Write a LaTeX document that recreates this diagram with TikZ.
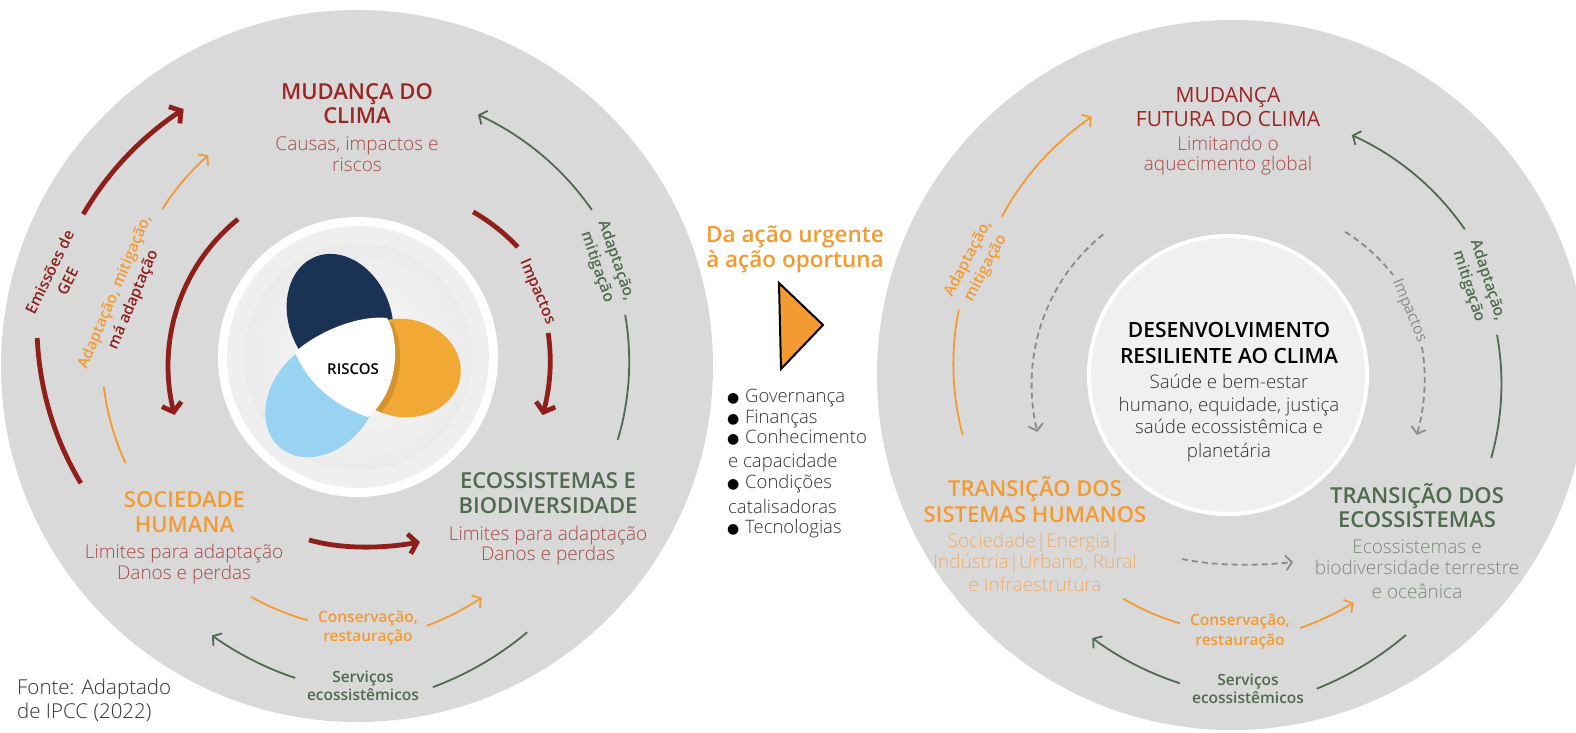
\documentclass[tikz,border=0pt]{standalone}
\usepackage{fontspec}
\setmainfont{Open Sans}
\newfontfamily\osl{Open Sans Light}
\newfontfamily\ossb{Open Sans Semibold}
\newfontfamily\djv{DejaVu Sans}
\usetikzlibrary{arrows.meta}
\definecolor{bgray}{HTML}{D9D9D9}
\definecolor{arrred}{HTML}{8E1F1B}
\definecolor{ttlred}{HTML}{9B2522}
\definecolor{subred}{HTML}{A64B47}
\definecolor{orng}{HTML}{F39A33}
\definecolor{lorng}{HTML}{F3AC66}
\definecolor{grn}{HTML}{4F6A4D}
\definecolor{lgrn}{HTML}{7C8B7A}
\definecolor{dgray}{HTML}{8A8A8A}
\definecolor{txt}{HTML}{333333}
\definecolor{navy}{HTML}{1A3354}
\definecolor{petor}{HTML}{F2A835}
\definecolor{petbl}{HTML}{98D4F2}
\definecolor{incirc}{HTML}{F0F0F0}
\definecolor{embband}{HTML}{EFEFF0}
\newcommand{\sarc}[4]{plot[domain=0:1,samples=40,smooth] ({(#1)+((#2)-(#1))*\x}:{(#3)+((#4)-(#3))*\x})}
\newcommand{\lenspath}{(295,352) .. controls (320,330) and (360,315) .. (387,318)
  .. controls (400,340) and (400,390) .. (368,417)
  .. controls (345,410) and (310,390) .. (295,352) -- cycle}
\begin{document}
\begin{tikzpicture}[x=1pt,y=-1pt,
  ttl/.style={anchor=base,inner sep=0pt,font=\ossb\fontsize{22}{24}\selectfont},
  sub/.style={anchor=base,inner sep=0pt,font=\osl\fontsize{19}{21}\selectfont},
  sml/.style={anchor=base,inner sep=0pt,font=\ossb\fontsize{15.5}{18}\selectfont},
  rlbl/.style={anchor=center,inner sep=0pt,align=center,font=\ossb\fontsize{15.5}{20}\selectfont},
  lst/.style={anchor=base west,inner sep=0pt,text=txt,font=\osl\fontsize{18.5}{20}\selectfont},
  bul/.style={anchor=base west,inner sep=0pt,text=black,font=\djv\fontsize{14}{16}\selectfont},
  redthick/.style={draw=arrred,line width=4.8pt},
  redtip/.style={-{Straight Barb[length=8pt,width=20pt]}},
  thinarr/.style={line width=1.8pt},
  thintip/.style={-{Straight Barb[length=6pt,width=15pt]}},
  dasharr/.style={draw=dgray,line width=1.8pt,dash pattern=on 6pt off 4pt}]
\useasboundingbox (0,0) rectangle (1576,733);
\fill[white] (0,0) rectangle (1576,733);
% big discs
\fill[bgray] (357,366) circle[radius=356];
\fill[bgray] (1232,375) circle[radius=355];
% emblem left
\fill[white] (358,357) circle[radius=140];
\fill[embband] (358,357) circle[radius=131];
\shade[inner color=white!96!gray, outer color=white!84!gray] (358,357) circle[radius=114];
\fill[navy, rotate around={112:(340,318)}] (340,318) ellipse[x radius=66, y radius=51];
\fill[petbl, rotate around={-130:(322,398)}] (322,398) ellipse[x radius=65, y radius=50];
\fill[petor, rotate around={-10:(403,368)}] (403,368) ellipse[x radius=58, y radius=49];
\begin{scope}
  \clip[rotate around={-10:(403,368)}] (403,368) ellipse[x radius=58, y radius=49];
  \begin{scope}[shift={(5,4)}]
    \fill[black,opacity=0.12] \lenspath;
  \end{scope}
\end{scope}
\fill[white] \lenspath;
\node[anchor=base,inner sep=0pt,font=\ossb\fontsize{15}{17}\selectfont] (riscos) at (353,374) {RISCOS};
% right inner disc
\fill[white] (1228,375) circle[radius=141];
\fill[incirc] (1228,375) circle[radius=137];

% ---------- left texts
\node[ttl,text=ttlred] (mc1) at (357,100) {MUDANÇA DO};
\node[ttl,text=ttlred] (mc2) at (357,124) {CLIMA};
\node[sub,text=subred] (mcs1) at (357,150) {Causas, impactos e};
\node[sub,text=subred] (mcs2) at (357,171) {riscos};
\node[ttl,text=orng] (sh1) at (184.5,507) {SOCIEDADE};
\node[ttl,text=orng] (sh2) at (184.5,532) {HUMANA};
\node[sub,text=subred] (shs1) at (184,558) {Limites para adaptação};
\node[sub,text=subred] (shs2) at (184,579) {Danos e perdas};
\node[ttl,text=grn] (eb1) at (548,488) {ECOSSISTEMAS E};
\node[ttl,text=grn] (eb2) at (548,513) {BIODIVERSIDADE};
\node[sub,text=subred] (ebs1) at (548,540) {Limites para adaptação};
\node[sub,text=subred] (ebs2) at (548,560) {Danos e perdas};
\node[sml,text=orng] (cr1) at (368,622) {Conservação,};
\node[sml,text=orng] (cr2) at (368,641) {restauração};
\node[sml,text=grn] (se1) at (363,682) {Serviços};
\node[sml,text=grn] (se2) at (363,700) {ecossistêmicos};
\node[anchor=base west,inner sep=0pt,text=txt,font=\osl\fontsize{20.5}{22}\selectfont] (f1) at (17,694) {Fonte: Adaptado};
\node[anchor=base west,inner sep=0pt,text=txt,font=\osl\fontsize{20.5}{22}\selectfont] (f2) at (17,718) {de IPCC (2022)};
% rotated labels left
\node[rlbl,text=arrred,rotate=64] (em) at (58.5,276.5) {Emissões de\\GEE};
\node[rlbl,text=orng,rotate=67] (am) at (124.5,296) {Adaptação, mitigação,\\\textcolor{arrred}{má adaptação}};
\node[rlbl,text=arrred,rotate=-67] (imp) at (537,292) {Impactos};
\node[rlbl,text=grn,rotate=-71] (ad) at (606.5,264) {Adaptação,\\mitigação};

% ---------- left arrows
\draw[redthick,redtip,shift={(357,366)}] \sarc{209}{236}{313}{310};
\draw[redthick,shift={(357,366)}] \sarc{185}{157}{321}{300};
\draw[redthick,redtip,shift={(357,366)}] \sarc{231}{165}{189}{189};
\draw[redthick,shift={(357,366)}] \sarc{-53}{-36.5}{193}{200};
\draw[redthick,redtip,shift={(357,366)}] \sarc{-9.8}{14.8}{194}{192};
\draw[thinarr,draw=orng,thintip,shift={(357,366)}] \sarc{218.8}{234.8}{250}{258};
\draw[thinarr,draw=orng,shift={(357,366)}] \sarc{175.3}{157.2}{254}{251};
\draw[thinarr,draw=grn,thintip,shift={(357,366)}] \sarc{-33.6}{-64.3}{282}{279};
\draw[thinarr,draw=grn,shift={(357,366)}] \sarc{-10.8}{15.8}{273}{271};
\draw[thinarr,draw=orng,shift={(357,366)}] \sarc{114.6}{100.9}{254}{259};
\draw[thinarr,draw=orng,thintip,shift={(357,366)}] \sarc{74.9}{61.7}{269}{263};
\draw[thinarr,draw=grn,shift={(357,366)}] \sarc{57.4}{76.7}{316}{330};
\draw[thinarr,draw=grn,thintip,shift={(357,366)}] \sarc{101.2}{118.3}{318}{306};
\coordinate (h1) at (309,540);
\coordinate (h2) at (420,542);
\draw[redthick,redtip] (h1) .. controls (345,550) and (385,548) .. (h2);

% ---------- middle
\node[ttl,text=orng,font=\ossb\fontsize{22.5}{24}\selectfont] (da1) at (795,242) {Da ação urgente};
\node[ttl,text=orng,font=\ossb\fontsize{22.5}{24}\selectfont] (da2) at (795,267) {à ação oportuna};
\coordinate (t1) at (779,283);
\coordinate (t2) at (823,325);
\coordinate (t3) at (781,369);
\filldraw[fill=orng,draw=black,line width=2pt,line join=miter] (t1) -- (t2) -- (t3) -- cycle;
\node[bul] (b1) at (727,402) {●};
\node[lst] (l1) at (745,402) {Governança};
\node[bul] (b2) at (727,423) {●};
\node[lst] (l2) at (745,423) {Finanças};
\node[bul] (b3) at (727,443) {●};
\node[lst] (l3) at (745,443) {Conhecimento};
\node[lst] (l4) at (728,467) {e capacidade};
\node[bul] (b5) at (727,488) {●};
\node[lst] (l5) at (745,488) {Condições};
\node[lst] (l6) at (728,513) {catalisadoras};
\node[bul] (b7) at (727,533) {●};
\node[lst] (l7) at (745,533) {Tecnologias};

% ---------- right texts
\node[ttl,text=ttlred,font=\fontsize{21}{23}\selectfont] (mf1) at (1228,103) {MUDANÇA};
\node[ttl,text=ttlred,font=\fontsize{21}{23}\selectfont] (mf2) at (1228,127) {FUTURA DO CLIMA};
\node[sub,text=subred] (mfs1) at (1228,150) {Limitando o};
\node[sub,text=subred] (mfs2) at (1228,170) {aquecimento global};
\node[ttl,text=black,font=\ossb\fontsize{21}{23}\selectfont] (dv1) at (1229,337) {DESENVOLVIMENTO};
\node[ttl,text=black,font=\ossb\fontsize{21}{23}\selectfont] (dv2) at (1229,363) {RESILIENTE AO CLIMA};
\node[sub,text=txt,font=\osl\fontsize{18.7}{21}\selectfont] (dvs1) at (1229,388) {Saúde e bem-estar};
\node[sub,text=txt,font=\osl\fontsize{18.7}{21}\selectfont] (dvs2) at (1229,411) {humano, equidade, justiça};
\node[sub,text=txt,font=\osl\fontsize{18.7}{21}\selectfont] (dvs3) at (1229,433) {saúde ecossistêmica e};
\node[sub,text=txt,font=\osl\fontsize{18.7}{21}\selectfont] (dvs4) at (1229,457) {planetária};
\node[ttl,text=orng] (th1) at (1035,496) {TRANSIÇÃO DOS};
\node[ttl,text=orng] (th2) at (1035,522) {SISTEMAS HUMANOS};
\node[sub,text=lorng] (ths1) at (1034,547) {Sociedade|Energia|};
\node[sub,text=lorng] (ths2) at (1035,568) {Indústria|Urbano, Rural};
\node[sub,text=lorng] (ths3) at (1035,591) {e Infraestrutura};
\node[ttl,text=grn] (te1) at (1417,503) {TRANSIÇÃO DOS};
\node[ttl,text=grn] (te2) at (1417,527) {ECOSSISTEMAS};
\node[sub,text=lgrn] (tes1) at (1417,553) {Ecossistemas e};
\node[sub,text=lgrn] (tes2) at (1417,574) {biodiversidade terrestre};
\node[sub,text=lgrn] (tes3) at (1417,598) {e oceânica};
\node[sml,text=orng] (rcr1) at (1240,625) {Conservação,};
\node[sml,text=orng] (rcr2) at (1240,645) {restauração};
\node[sml,text=grn] (rse1) at (1248,685) {Serviços};
\node[sml,text=grn] (rse2) at (1248,703) {ecossistêmicos};
\node[rlbl,text=orng,rotate=62] (rad) at (977,263.5) {Adaptação,\\mitigação};
\node[rlbl,text=dgray,font=\fontsize{15.5}{18}\selectfont,rotate=-67] (rimp) at (1409,311) {Impactos};
\node[rlbl,text=grn,rotate=-72] (rag) at (1478,283.5) {Adaptação,\\mitigação};

% ---------- right arrows
\draw[thinarr,draw=orng,thintip,shift={(1228,375)}] \sarc{215}{242.2}{276}{292};
\draw[thinarr,draw=orng,shift={(1228,375)}] \sarc{193.6}{167.2}{277}{272};
\draw[dasharr,thintip,shift={(1228,375)}] \sarc{228.4}{163.4}{188}{199};
\draw[dasharr,shift={(1228,375)}] \sarc{-50.7}{-31.2}{185}{193};
\draw[dasharr,thintip,shift={(1228,375)}] \sarc{-8.2}{17.6}{196}{198};
\draw[thinarr,draw=grn,thintip,shift={(1228,375)}] \sarc{-31.6}{-62.7}{278}{270};
\draw[thinarr,draw=grn,shift={(1228,375)}] \sarc{-8.5}{17.5}{272}{276};
\draw[thinarr,draw=orng,shift={(1228,375)}] \sarc{115.1}{100.9}{247}{253};
\draw[thinarr,draw=orng,thintip,shift={(1228,375)}] \sarc{74.1}{61.1}{263}{260};
\draw[thinarr,draw=grn,shift={(1228,375)}] \sarc{55.6}{74.2}{315}{326};
\draw[thinarr,draw=grn,thintip,shift={(1228,375)}] \sarc{98.9}{117.3}{312}{296};
\coordinate (d1) at (1182,559);
\coordinate (d2) at (1293,562);
\draw[dasharr,thintip] (d1) .. controls (1215,566) and (1258,566) .. (d2);
\end{tikzpicture}
\end{document}
